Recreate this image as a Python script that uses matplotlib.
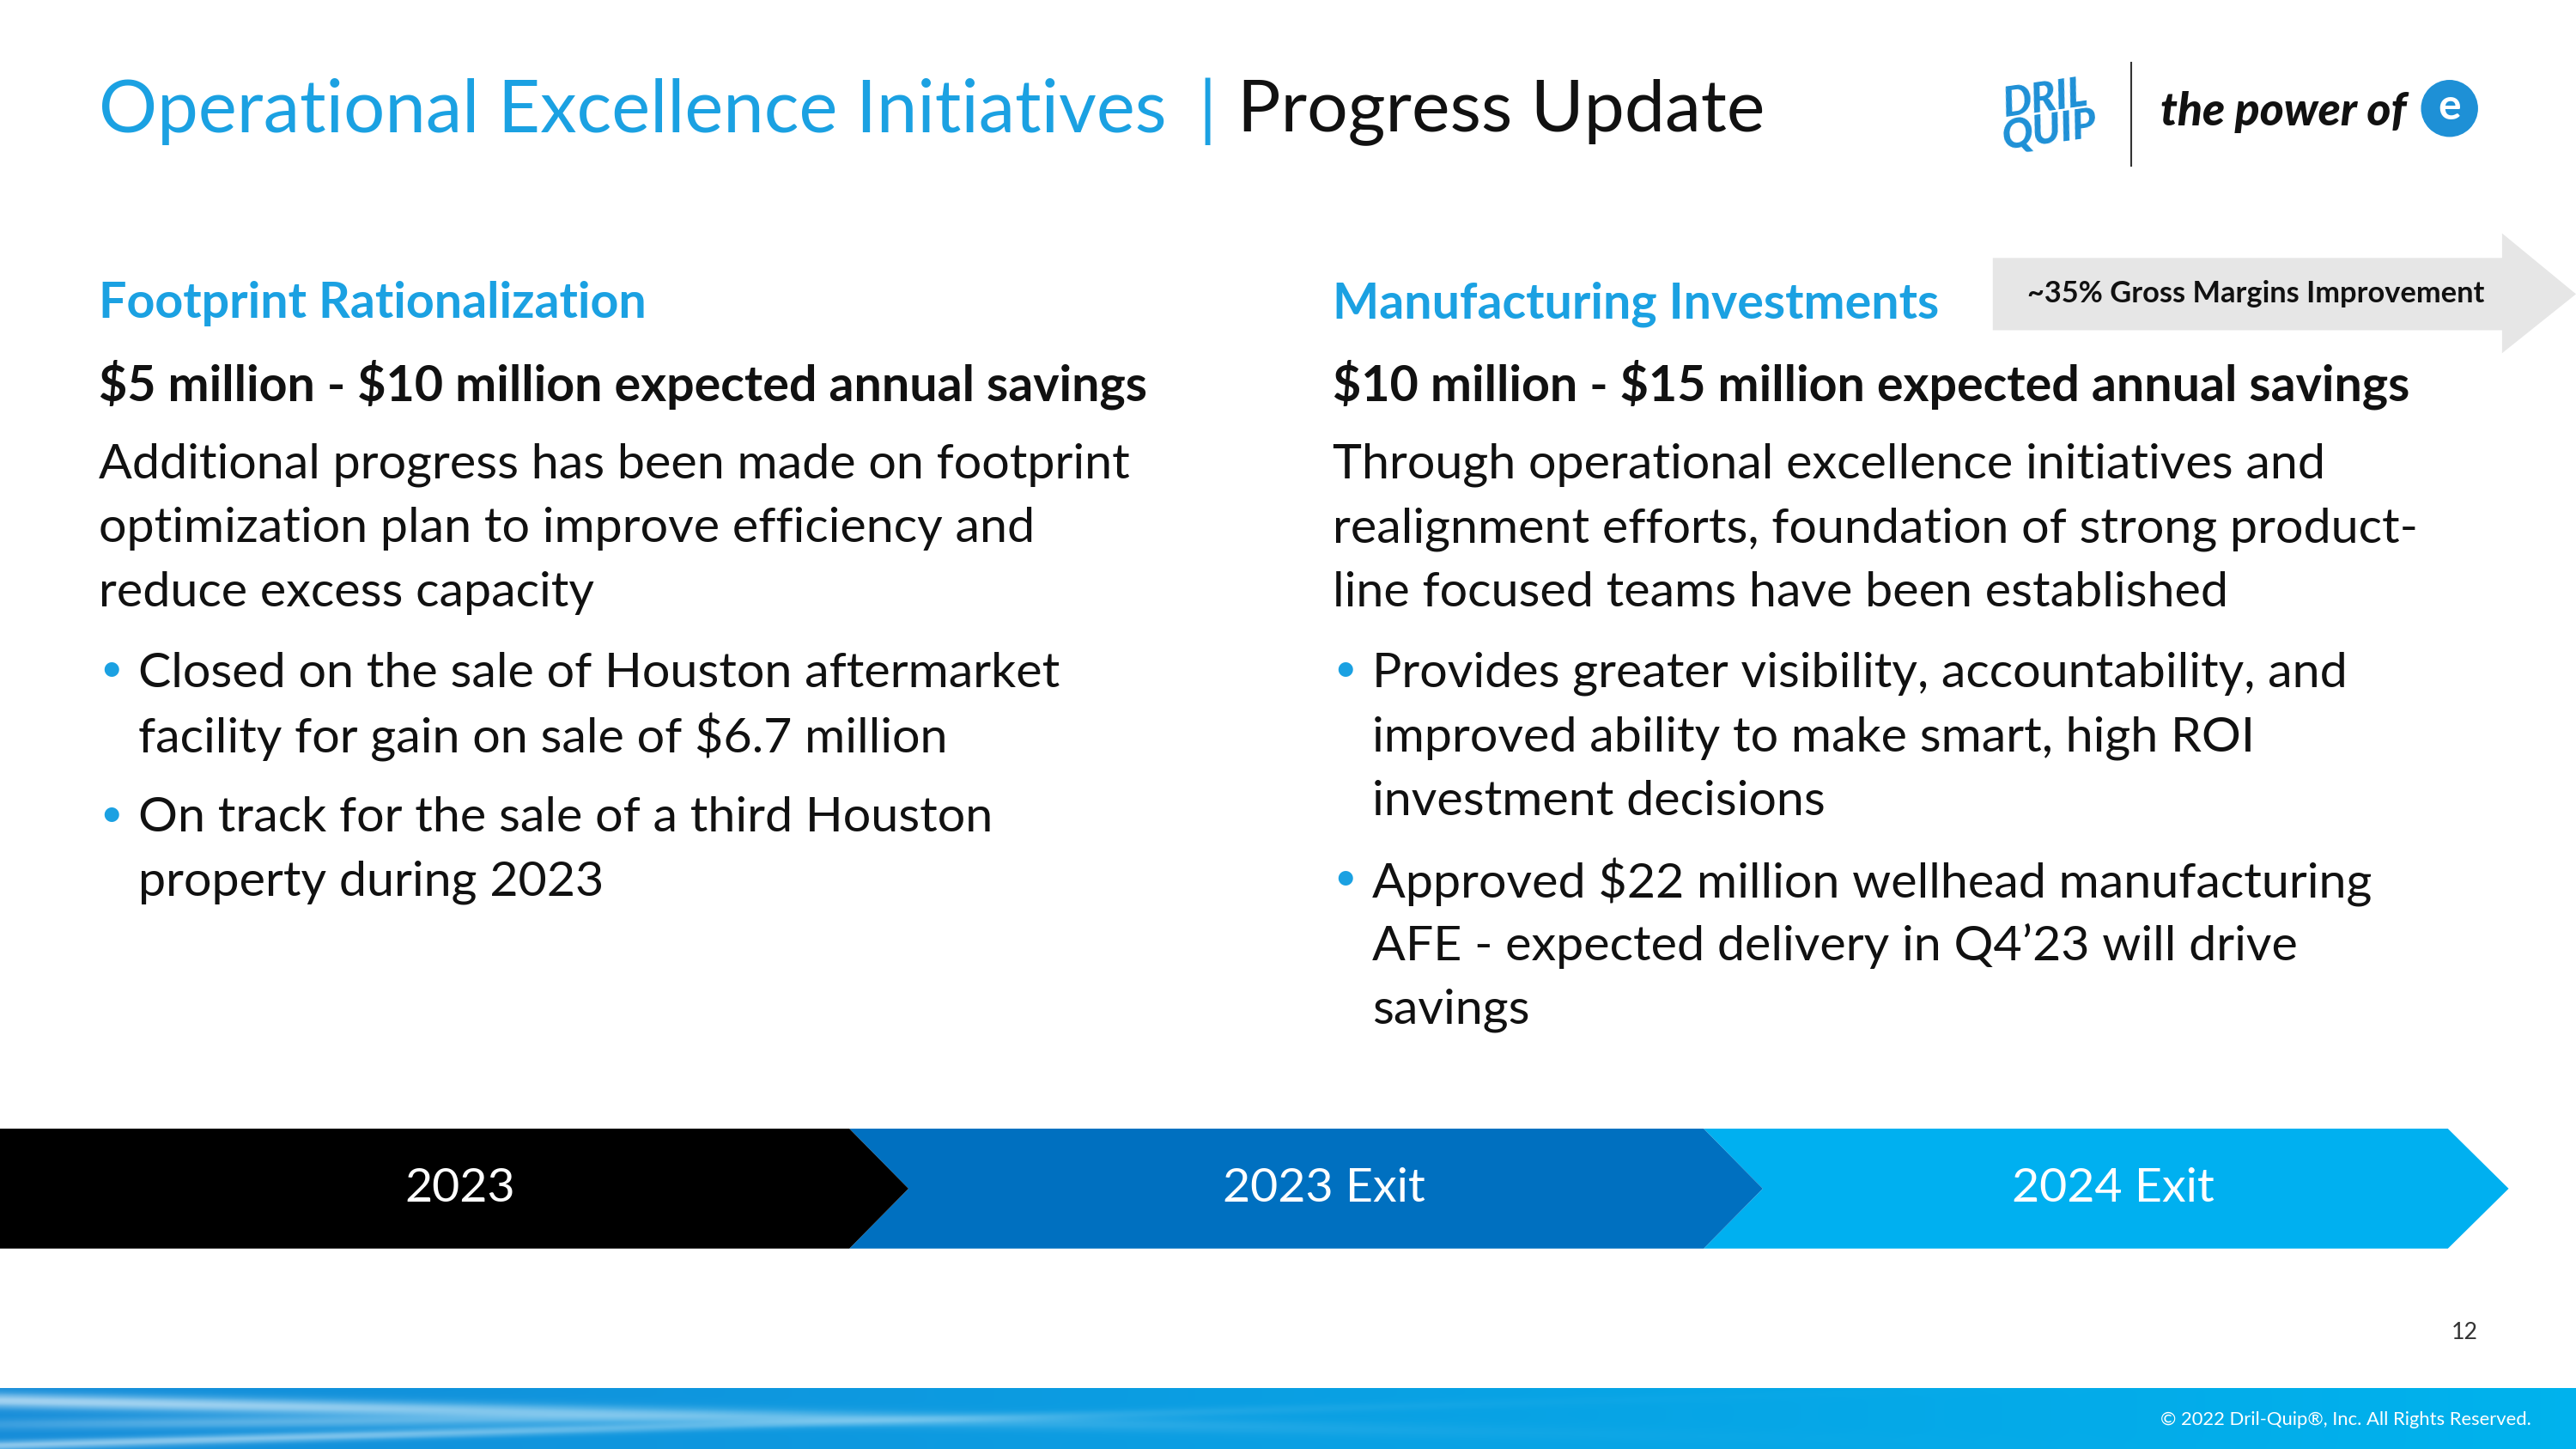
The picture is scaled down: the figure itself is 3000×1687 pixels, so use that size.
import matplotlib.pyplot as plt
import matplotlib.patches as mpatches
import numpy as np

plt.rcParams['font.family'] = ['Lato', 'DejaVu Sans']
plt.rcParams['text.parse_math'] = False

# tekst slajdu
tytul_1 = 'Operational Excellence Initiatives'
tytul_2 = 'Progress Update'
naglowki = ['Footprint Rationalization', 'Manufacturing Investments']
oszczednosci = ['$5 million - $10 million expected annual savings',
                '$10 million - $15 million expected annual savings']
opisy = [['Additional progress has been made on footprint',
          'optimization plan to improve efficiency and',
          'reduce excess capacity'],
         ['Through operational excellence initiatives and',
          'realignment efforts, foundation of strong product-',
          'line focused teams have been established']]
punkty = [[['Closed on the sale of Houston aftermarket', 'facility for gain on sale of $6.7 million'],
           ['On track for the sale of a third Houston', 'property during 2023']],
          [['Provides greater visibility, accountability, and',
            'improved ability to make smart, high ROI', 'investment decisions'],
           ['Approved $22 million wellhead manufacturing',
            'AFE - expected delivery in Q4\u201923 will drive', 'savings']]]
strzalka_tekst = '~35% Gross Margins Improvement'
etapy = ['2023', '2023 Exit', '2024 Exit']
kolory_etapow = ['#000000', '#0070C0', '#00B0F0']
strona = '12'
stopka = '\u00a9 2022 Dril-Quip\u00ae, Inc. All Rights Reserved.'

NIEBIESKI = '#1BA1E2'
W, H = 1568, 882
k = 1.377  # px -> pt
TXT = 30 * k

fig = plt.figure(figsize=(30, 16.87), dpi=100)
ax = fig.add_axes([0, 0, 1, 1])
ax.set_xlim(0, W)
ax.set_ylim(H, 0)
ax.axis('off')

# tytul
ax.text(60, 68, tytul_1, color=NIEBIESKI, fontsize=44.5 * k, va='center')
ax.text(735, 68, '|', color=NIEBIESKI, fontsize=44 * k, va='center', ha='center')
ax.text(753, 68, tytul_2, color='#111111', fontsize=44 * k, va='center')

# logo
ax.text(1246, 70, 'DRIL\nQUIP', color='#1E90D6', fontsize=25 * k, fontweight='black',
        ha='center', va='center', linespacing=0.8, rotation=8, fontstyle='italic')
ax.plot([1297, 1297], [38, 101], color='#333333', lw=1.5)
ax.text(1315, 68, 'the power of', color='#111111', fontsize=28 * k, fontweight='black',
        fontstyle='italic', va='center')
ax.add_patch(mpatches.Circle((1491, 66), 17, color='#1E90D6'))
ax.text(1491, 65, 'e', color='white', fontsize=26 * k, fontweight='bold', ha='center', va='center')

# szara strzalka
ax.add_patch(mpatches.Polygon([(1213, 157), (1523, 157), (1523, 142), (1568, 179), (1523, 215),
                               (1523, 201), (1213, 201)], closed=True, color='#E6E6E6', lw=0))
ax.text(1373, 179, strzalka_tekst, fontsize=18 * k, fontweight='bold', ha='center', va='center',
        color='#111111')

kolumny_x = [60, 811]
for i, x in enumerate(kolumny_x):
    ax.text(x, 185, naglowki[i], color=NIEBIESKI, fontsize=TXT, fontweight='bold', va='center')
    ax.text(x, 234, oszczednosci[i], color='#111111', fontsize=TXT, fontweight='bold', va='center')
    y = 283
    for linia in opisy[i]:
        ax.text(x, y, linia, color='#111111', fontsize=TXT, va='center')
        y += 39
    y += 10
    for punkt in punkty[i]:
        ax.text(x + 1, y - 2, '\u2022', color=NIEBIESKI, fontsize=24 * k, va='center')
        for linia in punkt:
            ax.text(x + 24, y, linia, color='#111111', fontsize=TXT, va='center')
            y += 39
        y += 10

# pasek z etapami
granice = [(0, 517, 553), (517, 1037, 1073), (1037, 1490, 1527)]
y0, y1 = 687, 760
ym = (y0 + y1) / 2
for i, (a, b, c) in enumerate(granice):
    pts = [(a, y0), (b, y0), (c, ym), (b, y1), (a, y1)]
    if i > 0:
        pts.append((a + 36, ym))
    ax.add_patch(mpatches.Polygon(pts, closed=True, color=kolory_etapow[i], lw=0, zorder=3 - i))
    srodek = [280, 806, 1286][i]
    ax.text(srodek, ym, etapy[i], color='white', fontsize=29 * k, ha='center', va='center', zorder=5)

ax.text(1500, 811, strona, fontsize=14 * k, ha='center', va='center', color='#333333')

# stopka z gradientem
xs = np.linspace(0, 1, 800)
ys = np.linspace(0, 1, 60)
X, Y = np.meshgrid(xs, ys)
zanik = np.exp(-(X / 0.35) ** 2)
jasnosc = 0.6 * np.exp(-((Y - 0.2 - 0.9 * X) ** 2) / 0.015) * zanik
jasnosc += 0.5 * np.exp(-((Y - 0.95 + 1.2 * X) ** 2) / 0.006) * zanik
jasnosc += 0.3 * np.exp(-((Y - 0.6 + 0.4 * X) ** 2) / 0.01) * np.exp(-((X - 0.12) / 0.15) ** 2)
lewy = np.array([0.08, 0.55, 0.85])
prawy = np.array([0.0, 0.70, 0.93])
base = lewy[None, None, :] * (1 - X[..., None]) + prawy[None, None, :] * X[..., None]
rgb = base + np.clip(jasnosc, 0, 1)[..., None] * (1 - base)
rgb = np.clip(rgb, 0, 1)
ax.imshow(rgb, extent=(0, W, 882, 845), aspect='auto', zorder=1)
ax.set_xlim(0, W)
ax.set_ylim(H, 0)
ax.text(1541, 864, stopka, fontsize=11.5 * k, color='white', ha='right', va='center', zorder=5)

fig.savefig('out.png', dpi=100)
